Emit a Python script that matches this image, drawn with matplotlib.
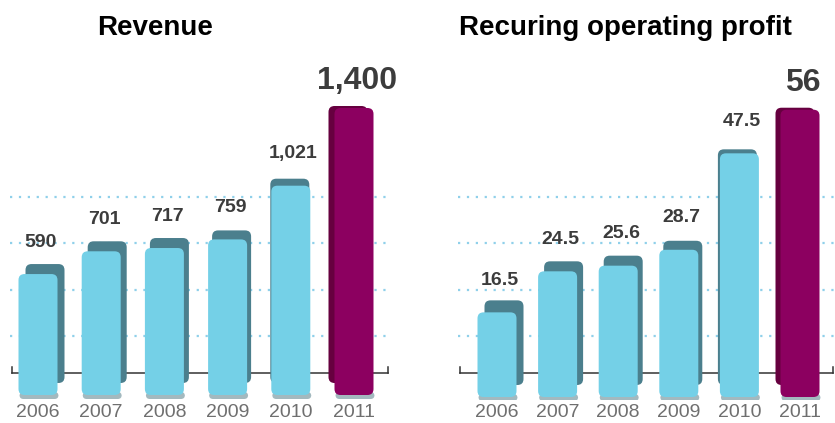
import numpy as np
import matplotlib.pyplot as plt
from matplotlib.patches import FancyBboxPatch

plt.rcParams['font.family'] = ['Liberation Sans', 'DejaVu Sans']

years = ['2006', '2007', '2008', '2009', '2010', '2011']
revenue = [590, 701, 717, 759, 1021, 1400]
profit = [16.5, 24.5, 25.6, 28.7, 47.5, 56]

W, H = 835, 423
BLUE = '#74d0e7'
BLUE_DARK = '#4b7f8d'
MAG = '#8c0060'
MAG_DARK = '#66003f'
GRID = '#8fd0ea'

fig = plt.figure(figsize=(W / 100, H / 100), dpi=100)


def px_axes(x0, x1, y0, y1):
    # pixel box (top-left origin) -> figure fraction
    return fig.add_axes([x0 / W, 1 - y1 / H, (x1 - x0) / W, (y1 - y0) / H])


def panel(ax, vals, labels, x_px, base_px, scale, step_px, first_px, sdx, sdy):
    # x data: bar i at i; y data: value, 0 at base_px
    x0, x1 = x_px
    ax.set_xlim((x0 - first_px) / step_px, (x1 - first_px) / step_px)
    ax.set_ylim(-(400 - base_px) / scale, base_px / scale)
    ax.axis('off')
    ypx = 1 / scale        # data units per pixel (y)
    xpx = 1 / step_px      # data units per pixel (x)
    aspect = ypx / xpx
    x = np.arange(len(vals))
    wid = 39 * xpx

    # dotted guide lines and base line
    for g in [197, 243, 290, 336]:
        ax.axhline((base_px - g) / scale, color=GRID, lw=1.6, ls=(0, (1, 3)), zorder=0)
    yl = (base_px - 372.5) / scale
    xa, xb = ax.get_xlim()[0] + 2 * xpx, ax.get_xlim()[1] - 2 * xpx
    ax.plot([xa, xb], [yl, yl], color='#333333', lw=1.1, zorder=1)
    for xe in [xa, xb]:
        ax.plot([xe, xe], [yl, yl + 6 * ypx], color='#333333', lw=1.1, zorder=1)

    cols = [BLUE] * (len(vals) - 1) + [MAG]
    dcols = [BLUE_DARK] * (len(vals) - 1) + [MAG_DARK]
    sdx = np.array(sdx)
    sdy = np.array(sdy)

    # soft drop shadow under bars
    under = ax.bar(x + 1 * xpx, 7 * ypx, width=wid, bottom=-4 * ypx, color='#a3b9bf', zorder=2)
    # depth side / top
    side = ax.bar(x + sdx * xpx, np.array(vals) + (sdy - 12) * ypx,
                  width=wid, bottom=12 * ypx, color=dcols, zorder=3)
    front = ax.bar(x, vals, width=wid, color=cols, zorder=4)

    for group, r in [(under, 4), (side, 6), (front, 6)]:
        for rect in group:
            fb = FancyBboxPatch(rect.get_xy(), rect.get_width(), rect.get_height(),
                                boxstyle=f'round,pad=0,rounding_size={r * xpx}',
                                mutation_aspect=aspect, fc=rect.get_facecolor(),
                                ec='none', zorder=rect.get_zorder())
            ax.add_patch(fb)
            rect.set_visible(False)

    for i, (v, lab) in enumerate(zip(vals, labels)):
        big = i == len(vals) - 1
        ax.annotate(lab, (i, v), xytext=(2, (27 if big else 32) * 0.72),
                    textcoords='offset points', ha='center', va='center',
                    fontsize=23 if big else 14, fontweight='bold', color='#3c3c3c', zorder=5)
        ax.text(i, -(412 - base_px) / scale, years[i], ha='center', va='center',
                fontsize=14, color='#6f6f6f', clip_on=False)


ax1 = px_axes(10, 390, 0, 400)
panel(ax1, revenue, [f'{v:,}' for v in revenue], (10, 390), 395, 0.205, 63.2, 38,
      [7, 6, 5, 4, -1, -6], [10, 10, 10, 9, 7, 2])
ax2 = px_axes(458, 835, 0, 400)
panel(ax2, profit, [f'{v:g}' for v in profit], (458, 835), 397, 5.13, 60.6, 497,
      [7, 6, 5, 4, -2, -5], [12, 10, 10, 9, 4, 2])

fig.text(155 / W, 1 - 28 / H, 'Revenue', ha='center', va='center', fontsize=20, fontweight='bold', color='black')
fig.text(625 / W, 1 - 28 / H, 'Recuring operating profit', ha='center', va='center', fontsize=20,
         fontweight='bold', color='black')

fig.savefig('out.png', dpi=100, facecolor='white')
